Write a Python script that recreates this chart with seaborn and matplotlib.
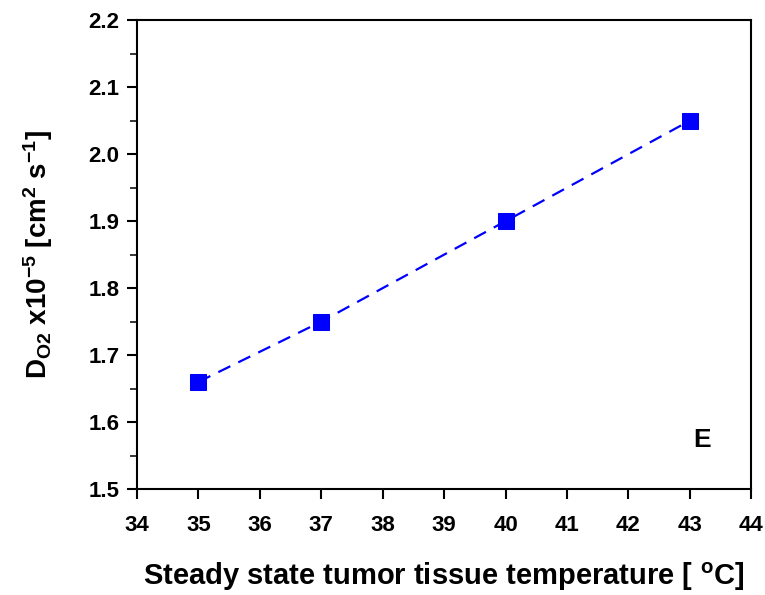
import pandas as pd
import seaborn as sns
import matplotlib
matplotlib.use("Agg")
import matplotlib.pyplot as plt
from matplotlib.ticker import MultipleLocator, FormatStrFormatter

temperature = [35, 37, 40, 43]
d_o2 = [1.66, 1.75, 1.90, 2.05]

df = pd.DataFrame({"temperature": temperature, "d_o2": d_o2})

sns.set_style("ticks")
plt.rcParams["font.family"] = ["Liberation Sans", "DejaVu Sans"]
plt.rcParams["font.weight"] = "bold"
plt.rcParams["text.color"] = "black"
plt.rcParams["axes.labelcolor"] = "black"
plt.rcParams["mathtext.fontset"] = "custom"
plt.rcParams["mathtext.bf"] = "Liberation Sans:bold"
plt.rcParams["mathtext.rm"] = "Liberation Sans:bold"
plt.rcParams["mathtext.default"] = "bf"

fig = plt.figure(figsize=(7.65, 5.95), dpi=100)
ax = fig.add_axes([0.179, 0.178, 0.803, 0.788])

sns.lineplot(data=df, x="temperature", y="d_o2", ax=ax, color="#0000ff",
             linewidth=1.6, marker="s", markersize=11,
             markeredgecolor="#0000ff")
ax.lines[0].set_linestyle((0, (6, 4)))

ax.set_xlim(34, 44)
ax.set_ylim(1.5, 2.2)
ax.xaxis.set_major_locator(MultipleLocator(1))
ax.yaxis.set_major_locator(MultipleLocator(0.1))
ax.yaxis.set_minor_locator(MultipleLocator(0.05))
ax.yaxis.set_major_formatter(FormatStrFormatter("%.1f"))

for s in ax.spines.values():
    s.set_linewidth(1.5)
    s.set_color("black")
ax.tick_params(axis="both", which="major", direction="out", length=7.5, width=1.5,
               labelsize=16, colors="black")
ax.tick_params(axis="y", which="minor", direction="out", length=5, width=1.3)
ax.tick_params(axis="x", pad=11)
ax.tick_params(axis="y", pad=5)
for lab in ax.get_xticklabels() + ax.get_yticklabels():
    lab.set_fontweight("bold")

ax.set_xlabel(r"Steady state tumor tissue temperature [ $^{o}$C]", fontsize=21,
              fontweight="bold", labelpad=18)
ax.set_ylabel(r"D$_{O2}$ x10$^{-5}$ [cm$^{2}$ s$^{-1}$]", fontsize=20,
              fontweight="bold", labelpad=24)

ax.text(43.2, 1.573, "E", fontsize=19, fontweight="bold", ha="center", va="center")

plt.savefig("out.png", dpi=100)
